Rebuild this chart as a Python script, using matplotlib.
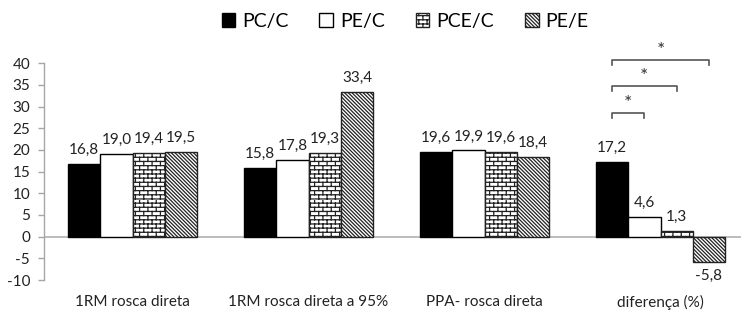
import warnings
warnings.filterwarnings("ignore")
import numpy as np
import matplotlib
matplotlib.use("Agg")
import matplotlib.pyplot as plt
from matplotlib import hatch as mhatch
from matplotlib.path import Path
from matplotlib.patches import Patch


class BrickHatch(mhatch.HatchPatternBase):
    def __init__(self, hatch, density):
        self.on = hatch.count('b') > 0
        self.rows = 24
        self.cols = 12
        self.num_vertices = (self.rows * 2 + self.rows * self.cols * 2) if self.on else 0

    def set_vertices_and_codes(self, vertices, codes):
        r, c = self.rows, self.cols
        ys = (np.arange(r) + 0.25) / r
        vertices[0:2 * r:2, 0] = 0.0
        vertices[0:2 * r:2, 1] = ys
        vertices[1:2 * r:2, 0] = 1.0
        vertices[1:2 * r:2, 1] = ys
        codes[0:2 * r:2] = Path.MOVETO
        codes[1:2 * r:2] = Path.LINETO
        i = 2 * r
        for k in range(r):
            for j in range(c):
                x = (j + 0.25 + 0.5 * (k % 2)) / c
                vertices[i] = (x, ys[k])
                vertices[i + 1] = (x, ys[k] + 1.0 / r)
                codes[i] = Path.MOVETO
                codes[i + 1] = Path.LINETO
                i += 2


mhatch._hatch_types.append(BrickHatch)

# ---------------- data ----------------
categories = ["1RM rosca direta", "1RM rosca direta a 95%", "PPA- rosca direta", "diferença (%)"]
series_names = ["PC/C", "PE/C", "PCE/C", "PE/E"]
pc_c = [16.8, 15.8, 19.6, 17.2]
pe_c = [19.0, 17.8, 19.9, 4.6]
pce_c = [19.4, 19.3, 19.6, 1.3]
pe_e = [19.5, 33.4, 18.4, -5.8]
y_ticks = [-10, -5, 0, 5, 10, 15, 20, 25, 30, 35, 40]
# significance comparisons in the last category: (bar a, bar b, bracket height)
sig_pairs = [(0, 1, 28.5), (0, 2, 34.7), (0, 3, 40.7)]
sig_label = "*"

plt.rcParams['font.family'] = ['Lato', 'DejaVu Sans']
plt.rcParams['hatch.linewidth'] = 0.9

W, H = 741, 311
fig = plt.figure(figsize=(W / 100, H / 100), dpi=100)
ax = fig.add_axes([44 / W, 31 / H, (W - 44) / W, 216.7 / H])

series = [pc_c, pe_c, pce_c, pe_e]
styles = [
    dict(facecolor='black', edgecolor='black', hatch=None),
    dict(facecolor='white', edgecolor='black', hatch=None),
    dict(facecolor='white', edgecolor='#222222', hatch='b'),
    dict(facecolor='white', edgecolor='#222222', hatch='\\' * 9),
]
bw = 0.1835
x = np.arange(len(categories))
offsets = (np.arange(4) - 1.5) * bw
for vals, st, off, name in zip(series, styles, offsets, series_names):
    bars = ax.bar(x + off, vals, bw, facecolor=st['facecolor'], edgecolor=st['edgecolor'],
                  hatch=st['hatch'], linewidth=1.0, label=name, zorder=3)
    ax.bar_label(bars, labels=[f"{v:.1f}".replace('.', ',') for v in vals],
                 padding=5, fontsize=11, color='#222222')

ax.axhline(0, color='#b0b0b0', linewidth=1.2, zorder=2)
ax.set_xlim(-88.5 / 176, (W - 132.5) / 176)
ax.set_ylim(-10, 40)
ax.set_yticks(y_ticks)
ax.set_yticklabels([str(t) for t in y_ticks])
ax.set_xticks(x)
ax.set_xticklabels(categories)
ax.tick_params(axis='x', length=0, pad=11, labelsize=11, labelcolor='#222222')
ax.tick_params(axis='y', length=4, width=1, color='#a6a6a6', pad=6,
               labelsize=11, labelcolor='#222222')
for s in ['top', 'right', 'bottom']:
    ax.spines[s].set_visible(False)
ax.spines['left'].set_color('#a6a6a6')
ax.spines['left'].set_linewidth(1.0)

# significance brackets
last = len(categories) - 1
for a, b, h in sig_pairs:
    xa, xb = last + offsets[a], last + offsets[b]
    ax.plot([xa, xa, xb, xb], [h - 1.2, h, h, h - 1.2], color='#555555',
            linewidth=1.2, clip_on=False, zorder=4)
    ax.text((xa + xb) / 2, h + 2.2, sig_label, ha='center', va='center',
            fontsize=14, color='#333333', clip_on=False)

handles = [Patch(facecolor=st['facecolor'], edgecolor=st['edgecolor'], hatch=st['hatch'],
                 linewidth=1.0) for st in styles]
fig.legend(handles, series_names, loc='center', bbox_to_anchor=(405 / W, 1 - 21 / H),
           ncol=4, frameon=False, fontsize=14, handlelength=0.7, handleheight=0.7,
           handletextpad=0.35, columnspacing=1.6)

fig.savefig('out.png', dpi=100)
